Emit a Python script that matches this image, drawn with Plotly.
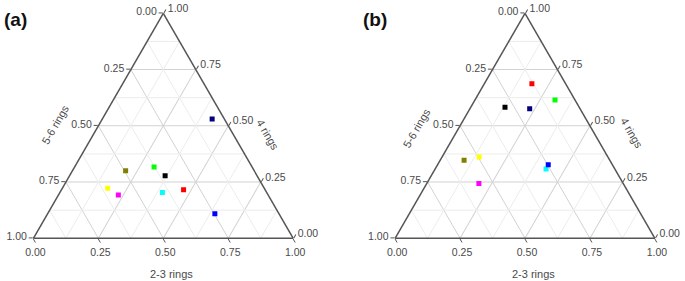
import plotly.graph_objects as go

# Data: fractions (4 rings, 5-6 rings, 2-3 rings)
colors = ["#000080", "#808000", "#00ff00", "#000000", "#ffff00",
          "#ff00ff", "#00ffff", "#ff0000", "#0000ff"]

a_4rings = [0.530, 0.300, 0.317, 0.278, 0.222, 0.192, 0.203, 0.216, 0.109]
a_23rings = [0.423, 0.205, 0.306, 0.368, 0.175, 0.231, 0.395, 0.470, 0.644]
a_56rings = [round(1 - x - y, 3) for x, y in zip(a_4rings, a_23rings)]

b_4rings = [0.576, 0.347, 0.615, 0.582, 0.361, 0.243, 0.308, 0.687, 0.327]
b_23rings = [0.230, 0.092, 0.308, 0.132, 0.143, 0.201, 0.427, 0.183, 0.426]
b_56rings = [round(1 - x - y, 3) for x, y in zip(b_4rings, b_23rings)]

tick_vals = [0, 0.25, 0.5, 0.75, 1]
tick_text_rev = ["1.00", "0.75", "0.50", "0.25", "0.00"]
minor_vals = [0.125, 0.375, 0.625, 0.875]

FONT = "Arial, Liberation Sans, sans-serif"
EDGE = "#555555"
TXT = "#4a4a4a"

fig = go.Figure()

def add_panel(sub, a_vals, b_vals, c_vals):
    # minor grid lines
    for v in minor_vals:
        for seg in [
            dict(a=[v, v], b=[1 - v, 0], c=[0, 1 - v]),
            dict(a=[1 - v, 0], b=[v, v], c=[0, 1 - v]),
            dict(a=[1 - v, 0], b=[0, 1 - v], c=[v, v]),
        ]:
            fig.add_trace(go.Scatterternary(
                **seg, mode="lines", subplot=sub,
                line=dict(color="#ececec", width=1),
                hoverinfo="skip", showlegend=False))
    fig.add_trace(go.Scatterternary(
        a=a_vals, b=b_vals, c=c_vals, mode="markers", subplot=sub,
        marker=dict(symbol="square", size=5, color=colors,
                    line=dict(width=0)),
        showlegend=False))

add_panel("ternary", a_4rings, a_56rings, a_23rings)
add_panel("ternary2", b_4rings, b_56rings, b_23rings)

def axis():
    return dict(
        tickmode="array", tickvals=tick_vals, ticktext=tick_text_rev,
        ticks="outside", ticklen=4, tickcolor=EDGE,
        linecolor=EDGE, linewidth=1.5,
        gridcolor="#d2d2d2", gridwidth=1,
        tickfont=dict(family=FONT, size=10.5, color=TXT),
        title=dict(text=""), min=0,
    )

def tern(x0, x1):
    return dict(
        domain=dict(x=[x0, x1], y=[0.152, 0.9527]),
        sum=1, bgcolor="white",
        aaxis=axis(), baxis=axis(), caxis=axis(),
    )

W, H = 685, 281
fig.update_layout(
    width=W, height=H,
    margin=dict(l=0, r=0, t=0, b=0, autoexpand=False),
    paper_bgcolor="white",
    ternary=tern(33.3 / W, 293.3 / W),
    ternary2=tern(395 / W, 655 / W),
    font=dict(family=FONT, color=TXT),
)

def ann(x, y, text, angle=0, size=11, bold=False, color=TXT):
    fig.add_annotation(
        x=x / W, y=1 - y / H, xref="paper", yref="paper",
        text=f"<b>{text}</b>" if bold else text, showarrow=False,
        textangle=angle, xanchor="center", yanchor="middle",
        font=dict(family=FONT, size=size, color=color))

ann(15, 20, "(a)", size=19, bold=True, color="#111111")
ann(375, 20, "(b)", size=19, bold=True, color="#111111")

ann(171.7, 274, "2-3 rings")
ann(55, 125, "5-6 rings", angle=-60)
ann(268, 135, "4 rings", angle=60)

ann(533, 274, "2-3 rings")
ann(416.7, 128, "5-6 rings", angle=-60)
ann(631.7, 133, "4 rings", angle=60)

fig.write_html(
    "out.html",
    config={"displayModeBar": False},
    post_script="document.body.style.margin='0';document.body.style.overflow='hidden';",
)
